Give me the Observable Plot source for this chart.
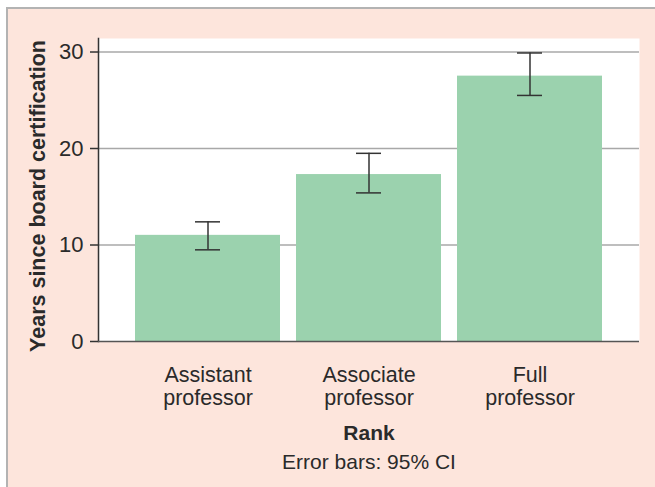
<!DOCTYPE html>
<html>
<head>
<meta charset="utf-8">
<script src="https://cdn.jsdelivr.net/npm/d3@7"></script>
<script src="https://cdn.jsdelivr.net/npm/@observablehq/plot@0.6"></script>
<style>
  html, body { margin: 0; padding: 0; background: #ffffff; }
  #bg { position: absolute; left: 6px; top: 7px; width: 649px; height: 480px;
        background: #fde5dc; border-left: 2px solid #b3b3b3; border-top: 2px solid #b3b3b3; box-sizing: border-box; }
  #chart { position: absolute; left: 0; top: 0; }
</style>
</head>
<body>
<div id="bg"></div>
<div id="chart"></div>
<script>
const ranks = ["Assistant\nprofessor", "Associate\nprofessor", "Full\nprofessor"];
const means = [11.0, 17.3, 27.5];
const ciLow = [9.5, 15.4, 25.5];
const ciHigh = [12.4, 19.5, 29.9];
const yTicks = [0, 10, 20, 30];
const yLabel = "Years since board certification";
const xLabel = "Rank";
const note = "Error bars: 95% CI";

const data = ranks.map((r, i) => ({rank: r, mean: means[i], lo: ciLow[i], hi: ciHigh[i]}));
const font = "Liberation Sans, Arial, Helvetica, sans-serif";

const chart = Plot.plot({
  width: 655,
  height: 487,
  marginLeft: 98,
  marginRight: 16,
  marginTop: 38,
  marginBottom: 146,
  style: {background: "transparent", fontFamily: font, fontSize: "21px", color: "#222"},
  x: {domain: ranks, paddingInner: 0.1, paddingOuter: 0.225, label: null},
  y: {domain: [0, 31.4], label: null},
  marks: [
    Plot.frame({fill: "white", stroke: null}),
    Plot.gridY(yTicks.slice(1), {stroke: "#a8a8a8", strokeOpacity: 1, strokeWidth: 1.5}),
    Plot.barY(data, {x: "rank", y: "mean", fill: "#9bd2ae"}),
    Plot.ruleX(data, {x: "rank", y1: "lo", y2: "hi", stroke: "#333", strokeWidth: 1.5}),
    Plot.tickY(data, {x: "rank", y: "lo", stroke: "#333", strokeWidth: 1.5, insetLeft: 60, insetRight: 60}),
    Plot.tickY(data, {x: "rank", y: "hi", stroke: "#333", strokeWidth: 1.5, insetLeft: 60, insetRight: 60}),
    Plot.frame({anchor: "left", stroke: "#333", strokeWidth: 1.5}),
    Plot.ruleY([0], {stroke: "#555", strokeWidth: 1.5}),
    Plot.axisY({ticks: yTicks, tickSize: 8, tickPadding: 7, fontSize: 22, stroke: "#333", strokeWidth: 1.5, label: null, fill: "#2a2a2a"}),
    Plot.axisX({tickSize: 0, tickPadding: 24, fontSize: 21.5, lineHeight: 1.08, label: null, fill: "#2a2a2a"}),
    Plot.text([yLabel], {frameAnchor: "left", rotate: -90, dx: -60, dy: 6, textAnchor: "middle", lineAnchor: "middle", fontWeight: "bold", fontSize: 21.5, fill: "#2a2a2a"}),
    Plot.text([xLabel], {frameAnchor: "bottom", dy: 92, textAnchor: "middle", lineAnchor: "middle", fontWeight: "bold", fontSize: 21, fill: "#2a2a2a"}),
    Plot.text([note], {frameAnchor: "bottom", dy: 121, textAnchor: "middle", lineAnchor: "middle", fontSize: 21, fill: "#2a2a2a"})
  ]
});
document.getElementById("chart").appendChild(chart);
</script>
</body>
</html>
